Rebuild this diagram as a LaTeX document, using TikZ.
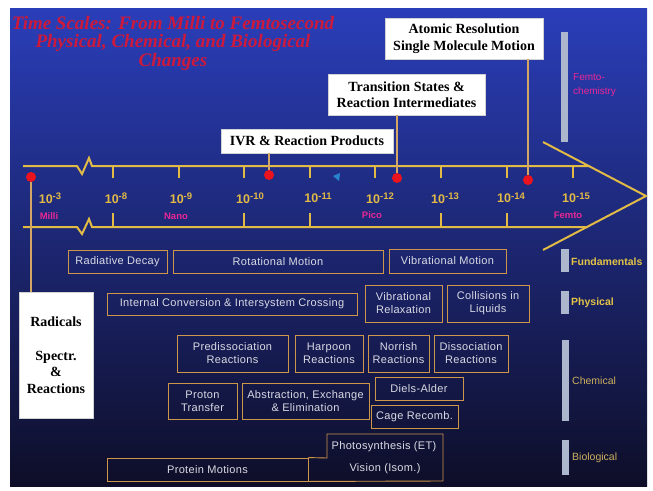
\documentclass[tikz,border=0pt]{standalone}
\usepackage{fontspec}
\setmainfont{Liberation Serif}
\setsansfont{Liberation Sans}
\usepackage{tikz}
\usetikzlibrary{positioning,calc}
\definecolor{bgtop}{RGB}{42,62,185}
\definecolor{bgmid}{RGB}{30,44,150}
\definecolor{bgbot}{RGB}{14,14,40}
\definecolor{axisgold}{RGB}{226,186,70}
\definecolor{boxedge}{RGB}{205,150,75}
\definecolor{boxtext}{RGB}{218,218,228}
\definecolor{titlered}{RGB}{205,25,60}
\definecolor{scalepink}{RGB}{232,40,150}
\definecolor{dotred}{RGB}{235,20,30}
\definecolor{barcol}{RGB}{172,182,205}
\definecolor{catgold}{RGB}{228,196,70}
\definecolor{cattan}{RGB}{205,175,95}
\newcommand{\decexp}[1]{\raisebox{3.5pt}{\fontsize{9.5}{10}\selectfont#1}}
\tikzset{
  procbox/.style ={draw=boxedge, line width=0.9pt, align=center, text=boxtext, inner sep=0pt,
                   font=\sffamily\fontsize{11}{13}\selectfont\addfontfeature{LetterSpace=3}},
  headbox/.style ={draw=gray!35, fill=white, align=center, inner sep=0pt,
                   font=\bfseries\fontsize{14}{16.5}\selectfont},
  axln/.style    ={draw=axisgold, line width=2pt, line join=miter},
  tickln/.style  ={draw=axisgold, line width=1.5pt},
  conn/.style    ={draw=boxedge!85!white, line width=1.2pt},
  tdot/.style    ={circle, fill=dotred, minimum size=10pt, inner sep=0pt},
  decade/.style  ={text=axisgold, font=\sffamily\bfseries\fontsize{12.5}{14}\selectfont},
  scalelab/.style={text=scalepink, font=\sffamily\bfseries\fontsize{9.5}{11}\selectfont},
  catlab/.style  ={anchor=west, inner sep=0pt, font=\sffamily\fontsize{10.5}{12}\selectfont},
}

\begin{document}
\begin{tikzpicture}[x=1pt,y=-1pt]
\useasboundingbox (0,0) rectangle (653,490);
\fill[white] (0,0) rectangle (653,490);
\shade[top color=bgtop, middle color=bgmid, bottom color=bgbot] (10,8) rectangle (647,486);

% title
\node[text=titlered, align=center, font=\bfseries\itshape\fontsize{19}{18.5}\selectfont] (title) at (173,43)
  {Time Scales: From Milli to Femtosecond\\ Physical, Chemical, and Biological\\ Changes};

% time axis
\coordinate (uptip) at (543,142);
\coordinate (tip) at (646,196);
\coordinate (lowtip) at (543,250);
\draw[axln] (23,166) -- (77,166) -- (82,174) -- (89,158) -- (92,166) -- (590,166);
\draw[axln] (23,227) -- (77,227) -- (82,234) -- (89,219) -- (92,227) -- (588,227);
\draw[axln] (uptip) -- (tip) -- (lowtip);
\foreach \x in {113,179,244,310,375,441,507,573}
  \draw[tickln] (\x,166) -- (\x,178);
\foreach \x in {113,244,310,441,507}
  \draw[tickln] (\x,213) -- (\x,227);
\foreach \x/\e in {50/-3,116/-8,181/-9,250/-10,318/-11,380/-12,445/-13,511/-14,576/-15}
  \node[decade] at (\x,198) {10\decexp{\e}};
\node[scalelab] (milli) at (49,216) {Milli};
\node[scalelab] (nano) at (176,216) {Nano};
\node[scalelab] (pico) at (372,215) {Pico};
\node[scalelab] (femto) at (568,215) {Femto};
\fill[cyan!60!blue!90] (333,176) -- (340,173) -- (339,181) -- cycle;

% milestones
\node[headbox, minimum width=158, minimum height=41] (atomic) at (464,38.5) {Atomic Resolution\\ Single Molecule Motion};
\node[headbox, minimum width=157, minimum height=41] (trans) at (406.5,94.5) {Transition States \&\\ Reaction Intermediates};
\node[headbox, minimum width=172, minimum height=24] (ivr) at (307,141) {IVR \& Reaction Products};
\node[headbox, minimum width=74, minimum height=126] (rad) at (56,355)
  {Radicals\\[17pt] Spectr.\\ \&\\ Reactions};
\node[tdot] (dmilli) at (31,177) {};
\node[tdot] (divr) at (269,175) {};
\node[tdot] (dtrans) at (397,178) {};
\node[tdot] (datomic) at (528,180) {};
\draw[conn] (ivr.south -| divr) -- (divr);
\draw[conn] (trans.south -| dtrans) -- (dtrans);
\draw[conn] (atomic.south -| datomic) -- (datomic);
\draw[conn] (dmilli) -- (dmilli |- rad.north);

% processes
\node[procbox, minimum width=99, minimum height=23] (raddec) at (117.5,261.5) {Radiative Decay};
\node[procbox, minimum width=210, minimum height=23] (rotmot) at (278,261.5) {Rotational Motion};
\node[procbox, minimum width=117, minimum height=24] (vibmot) at (447.5,261) {Vibrational Motion};
\node[procbox, minimum width=250, minimum height=22] (intconv) at (232,304) {Internal Conversion \& Intersystem Crossing};
\node[procbox, minimum width=77, minimum height=37] (vibrel) at (403.5,303.5) {Vibrational\\ Relaxation};
\node[procbox, minimum width=82, minimum height=37] (collis) at (488,303.5) {Collisions in\\ Liquids};
\node[procbox, minimum width=111, minimum height=37] (predis) at (232.5,353.5) {Predissociation\\ Reactions};
\node[procbox, minimum width=68, minimum height=37] (harpoon) at (329,353.5) {Harpoon\\ Reactions};
\node[procbox, minimum width=61, minimum height=37] (norrish) at (398.5,353.5) {Norrish\\ Reactions};
\node[procbox, minimum width=74, minimum height=37] (dissoc) at (471,353.5) {Dissociation\\ Reactions};
\node[procbox, minimum width=69, minimum height=36] (proton) at (202.5,401) {Proton\\ Transfer};
\node[procbox, minimum width=127, minimum height=36] (abstr) at (305.5,401) {Abstraction, Exchange\\ \& Elimination};
\node[procbox, minimum width=88, minimum height=23] (diels) at (419,388.5) {Diels-Alder};
\node[procbox, minimum width=87, minimum height=23] (cage) at (414.5,416.5) {Cage Recomb.};
\node[procbox, minimum width=201, minimum height=23] (protein) at (207.5,469.5) {Protein Motions};
\draw[draw=boxedge, line width=0.9pt] (protein.north east) -- (327,458) -- (327,434) -- (443,434)
  -- (443,481) -- (protein.south east);
\node[procbox, draw=none] (photo) at (384,447) {Photosynthesis (ET)};
\node[procbox, draw=none] (vision) at (385,469) {Vision (Isom.)};

% categories
\fill[barcol] (561,32) rectangle (568,142);
\fill[barcol] (561,249) rectangle (569,272);
\fill[barcol] (561,291) rectangle (569,314);
\fill[barcol] (562,340) rectangle (569,421);
\fill[barcol] (562,440) rectangle (569,475);
\node[catlab, text=scalepink, align=left, font=\sffamily\fontsize{10}{14}\selectfont] (femtocat) at (573,85) {Femto-\\ chemistry};
\node[catlab, text=catgold, font=\sffamily\bfseries\fontsize{10.5}{12}\selectfont] (fundcat) at (571,262) {Fundamentals};
\node[catlab, text=catgold, font=\sffamily\bfseries\fontsize{10.5}{12}\selectfont] (physcat) at (571,303) {Physical};
\node[catlab, text=cattan] (chemcat) at (572,381) {Chemical};
\node[catlab, text=cattan] (biocat) at (572,458) {Biological};
\end{tikzpicture}
\end{document}
